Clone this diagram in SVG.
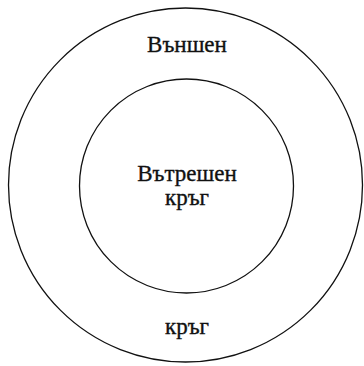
<svg xmlns="http://www.w3.org/2000/svg" width="364" height="366" viewBox="0 0 364 366">
<style>
.c{fill:none;stroke:#111;stroke-width:1.3}
.t{font-family:"Liberation Serif","DejaVu Serif",serif;font-size:23px;fill:#111;stroke:#111;stroke-width:0.35;text-anchor:middle}
</style>
<rect width="364" height="366" fill="#fff"/>
<g id="outer"><circle class="c" cx="185.5" cy="185" r="177"/>
<text class="t" x="187" y="52">Външен</text>
<text class="t" x="187" y="334">кръг</text></g>
<g id="inner"><circle class="c" cx="186.5" cy="186" r="107"/>
<text class="t" x="187" y="181">Вътрешен</text>
<text class="t" x="187" y="205">кръг</text></g>
</svg>
